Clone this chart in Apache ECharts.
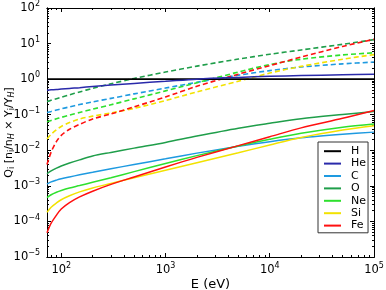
<!DOCTYPE html>
<html><head><meta charset="utf-8">
<script src="https://cdn.jsdelivr.net/npm/echarts@6/dist/echarts.min.js"></script>
<style>html,body{margin:0;padding:0;background:#fff}#c{width:386px;height:290px}</style>
</head><body><div id="c"></div>
<script>
const energy = [73, 80, 90, 100, 120, 150, 200, 300, 500, 1000, 2000, 5000, 10000, 20000, 50000, 100000];
// solid curves
const H_solid  = [1,1,1,1,1,1,1,1,1,1,1,1,1,1,1,1];
const He_solid = [0.49,0.50,0.51,0.525,0.55,0.575,0.62,0.68,0.76,0.87,1.0,1.12,1.2,1.26,1.33,1.38];
const C_solid  = [0.00112,0.00129,0.00145,0.00158,0.00178,0.00204,0.0024,0.00302,0.00398,0.00575,0.00832,0.0129,0.0174,0.0224,0.0282,0.0324];
const O_solid  = [0.00219,0.00263,0.00316,0.00363,0.00437,0.00537,0.00692,0.00871,0.0115,0.0166,0.0251,0.0417,0.0575,0.0776,0.102,0.123];
const Ne_solid = [0.000468,0.000562,0.000661,0.000741,0.000871,0.00102,0.00126,0.0017,0.00251,0.00427,0.00708,0.0132,0.0204,0.0302,0.0447,0.055];
const Si_solid = [0.000182,0.000251,0.000331,0.000407,0.000525,0.000676,0.000871,0.00117,0.0017,0.00275,0.00447,0.00851,0.0141,0.0229,0.0372,0.049];
const Fe_solid = [0.0000479,0.0000891,0.000151,0.000224,0.000339,0.00049,0.000708,0.0011,0.00178,0.00339,0.00631,0.0135,0.024,0.0427,0.0794,0.132];
// dashed curves
const C_dash  = [0.115,0.123,0.135,0.146,0.166,0.193,0.229,0.288,0.385,0.562,0.813,1.29,1.74,2.19,2.69,3.02];
const O_dash  = [0.234,0.254,0.282,0.309,0.363,0.437,0.55,0.741,1.047,1.585,2.32,3.67,5.01,6.61,9.55,12.9];
const Ne_dash = [0.063,0.069,0.0767,0.0841,0.0977,0.116,0.143,0.191,0.279,0.468,0.794,1.585,2.57,3.63,4.79,5.5];
const Si_dash = [0.0209,0.0282,0.038,0.0468,0.0603,0.0759,0.0912,0.112,0.151,0.251,0.437,0.871,1.48,2.29,3.63,4.9];
const Fe_dash = [0.00398,0.00891,0.0178,0.0263,0.0389,0.0537,0.0759,0.105,0.166,0.316,0.631,1.38,2.4,4.17,8.32,13.2];

const xMajor = [100, 1000, 10000, 100000];
const xMinor = [80,90,200,300,400,500,600,700,800,900,2000,3000,4000,5000,6000,7000,8000,9000,20000,30000,40000,50000,60000,70000,80000,90000];
const yMajor = [1e-5,1e-4,1e-3,1e-2,1e-1,1,10,100];
const yMinor = [];
[1e-5,1e-4,1e-3,1e-2,1e-1,1,10].forEach(d=>{for(let k=2;k<=9;k++) yMinor.push(+(d*k).toPrecision(3));});

const names  = ['H','He','C','O','Ne','Si','Fe'];
const colors = ['#000000','#2a2aaa','#1e9ae0','#1f9e4a','#2ee02e','#f2e200','#ff1010'];
const solids = [H_solid, He_solid, C_solid, O_solid, Ne_solid, Si_solid, Fe_solid];
const dashes = {C: C_dash, O: O_dash, Ne: Ne_dash, Si: Si_dash, Fe: Fe_dash};

const font = 'DejaVu Sans';
function pow10(v){
  const e = Math.round(Math.log10(v));
  return '{b|10}{s|' + (e < 0 ? '\u2212' + (-e) : e) + '}';
}
const richLab = {b:{fontSize:11.5, fontFamily:font, color:'#000'}, s:{fontSize:8, fontFamily:font, color:'#000', padding:[0,0,8,0]}};

function xAx(pos, minor, showLabel){
  return {type:'log', min:73, max:100000, position:pos, logBase:10,
    axisLine:{show:true, lineStyle:{color:'#000', width:1}},
    splitLine:{show:false},
    axisTick:{show:true, inside:true, length: minor?2:4, customValues: minor?xMinor:xMajor, lineStyle:{color:'#000'}},
    axisLabel:{show:showLabel, customValues:xMajor, formatter:pow10, rich:richLab, margin:5},
    name: showLabel?'E (eV)':'', nameLocation:'middle', nameGap:21, nameMoveOverlap:false,
    nameTextStyle:{fontFamily:font, fontSize:13, color:'#000'}};
}
function yAx(pos, minor, showLabel){
  return {type:'log', min:1e-5, max:100, position:pos, logBase:10,
    axisLine:{show:true, onZero:false, lineStyle:{color:'#000', width:1}},
    splitLine:{show:false},
    axisTick:{show:true, inside:true, length: minor?2:4, customValues: minor?yMinor:yMajor, lineStyle:{color:'#000'}},
    axisLabel:{show:showLabel, customValues:yMajor, formatter:pow10, rich:richLab, margin:7},
    name: showLabel?'Q{sub|i} [n{sub|i}/n{subi|H} \u00d7 Y{sub|i}/Y{subi|H}]':'', nameLocation:'middle', nameGap:31, nameRotate:90, nameMoveOverlap:false,
    nameTextStyle:{fontFamily:font, fontSize:11, color:'#000',
      rich:{sub:{fontSize:8, fontFamily:font, padding:[5,0,0,0]}, subi:{fontSize:8, fontFamily:font, fontStyle:'italic', padding:[5,0,0,0]}}}};
}

const series = [];
names.forEach((n,i)=>{
  if(dashes[n]){
    series.push({name:n+'_d', type:'line', xAxisIndex:0, yAxisIndex:0, showSymbol:false, symbol:'none', smooth:0.3,
      data: energy.map((e,j)=>[e, dashes[n][j]]),
      lineStyle:{color:colors[i], width:1.6, type:[5,3]}, itemStyle:{color:colors[i]}, z:2});
  }
});
names.forEach((n,i)=>{
  series.push({name:n, type:'line', xAxisIndex:0, yAxisIndex:0, showSymbol:false, symbol:'none', smooth:0.3,
    data: energy.map((e,j)=>[e, solids[i][j]]),
    lineStyle:{color:colors[i], width: n==='H'?1.8:1.5}, itemStyle:{color:colors[i]}, z:3});
});

const chart = echarts.init(document.getElementById('c'), null, {renderer:'canvas'});
chart.setOption({
  animation:false,
  backgroundColor:'#fff',
  grid:{left:47, right:12, top:8, bottom:33, outerBoundsMode:'none', containLabel:false},
  xAxis:[xAx('bottom',false,true), xAx('bottom',true,false), xAx('top',false,false), xAx('top',true,false)],
  yAxis:[yAx('left',false,true), yAx('left',true,false), yAx('right',false,false), yAx('right',true,false)],
  legend:{data:names.map(n=>({name:n, icon:'rect'})), orient:'vertical', left:318, top:142,
    itemWidth:17, itemHeight:2, itemGap:0, padding:[3,2,1,6],
    backgroundColor:'#fff', borderColor:'#333', borderWidth:1, borderRadius:0,
    textStyle:{fontFamily:font, fontSize:11, color:'#000', lineHeight:12.4, padding:[0,0,0,5]}},
  series: series
});
</script></body></html>
